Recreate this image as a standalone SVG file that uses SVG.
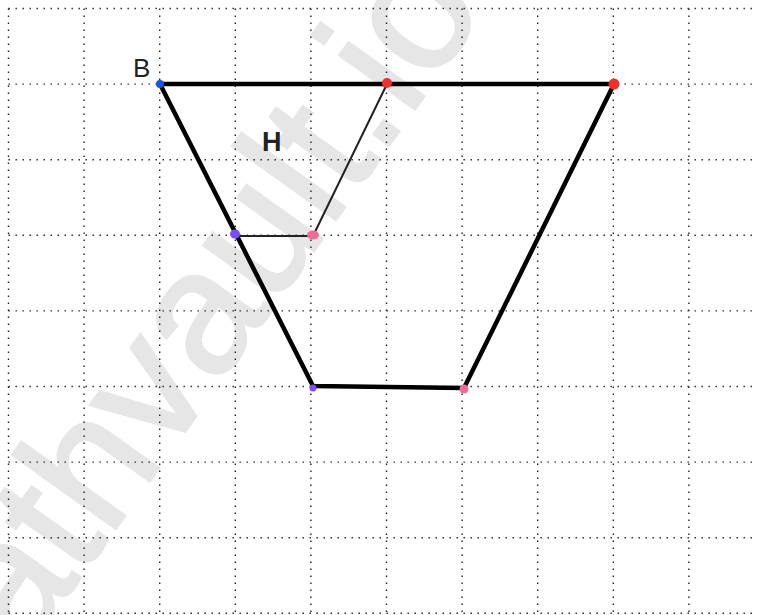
<svg xmlns="http://www.w3.org/2000/svg" width="757" height="615" viewBox="0 0 757 615">
<style>
.grid line{stroke:#222;stroke-width:1.4;stroke-dasharray:1.4 5.6}
.thick{fill:none;stroke:#000;stroke-width:4.5;stroke-linejoin:round;stroke-linecap:round}
.thin{fill:none;stroke:#222;stroke-width:2;stroke-linecap:round}
.lbl{font-family:"Liberation Sans",Arial,sans-serif;fill:#222}
</style>
<rect width="757" height="615" fill="#fff"/>
<text id="watermark" x="24" y="657" transform="rotate(-54.5 24 657)" font-family="Liberation Sans,Arial,sans-serif" font-size="175" fill="#e6e6e6" stroke="#e6e6e6" stroke-width="3">athvault.io</text>
<g class="grid" id="grid">
<line x1="8.5" y1="8.5" x2="8.5" y2="615"/>
<line x1="84.1" y1="8.5" x2="84.1" y2="615"/>
<line x1="159.7" y1="8.5" x2="159.7" y2="615"/>
<line x1="235.3" y1="8.5" x2="235.3" y2="615"/>
<line x1="310.9" y1="8.5" x2="310.9" y2="615"/>
<line x1="386.5" y1="8.5" x2="386.5" y2="615"/>
<line x1="462.1" y1="8.5" x2="462.1" y2="615"/>
<line x1="537.7" y1="8.5" x2="537.7" y2="615"/>
<line x1="613.3" y1="8.5" x2="613.3" y2="615"/>
<line x1="688.9" y1="8.5" x2="688.9" y2="615"/>
<line x1="8.5" y1="8.5" x2="757" y2="8.5"/>
<line x1="8.5" y1="84.1" x2="757" y2="84.1"/>
<line x1="8.5" y1="159.7" x2="757" y2="159.7"/>
<line x1="8.5" y1="235.3" x2="757" y2="235.3"/>
<line x1="8.5" y1="310.9" x2="757" y2="310.9"/>
<line x1="8.5" y1="386.5" x2="757" y2="386.5"/>
<line x1="8.5" y1="462.1" x2="757" y2="462.1"/>
<line x1="8.5" y1="537.7" x2="757" y2="537.7"/>
<line x1="8.5" y1="613.3" x2="757" y2="613.3"/>
</g>
<g id="connectors">
<polygon class="thick" points="160,84 614,84 464,388 313,386"/>
<line class="thin" x1="387" y1="84" x2="313" y2="236"/>
<line class="thin" x1="236" y1="236" x2="313" y2="236"/>
</g>
<g id="B"><circle cx="160" cy="84" r="4" fill="#1a56d6"/><text class="lbl" x="133" y="77" font-size="26">B</text></g>
<g id="H"><text class="lbl" x="262" y="151" font-size="27" font-weight="bold">H</text></g>
<g id="P1"><circle cx="387" cy="83" r="5" fill="#f0302a"/></g>
<g id="P2"><circle cx="614" cy="84" r="5.5" fill="#f0302a"/></g>
<g id="P3"><ellipse cx="235" cy="234" rx="5" ry="4.5" fill="#7c4dff"/></g>
<g id="P4"><ellipse cx="313" cy="235" rx="6" ry="4.5" fill="#f06c98"/></g>
<g id="P5"><circle cx="313" cy="388" r="3.5" fill="#7c4dff"/></g>
<g id="P6"><circle cx="464" cy="389" r="4.5" fill="#f06c98"/></g>
</svg>
